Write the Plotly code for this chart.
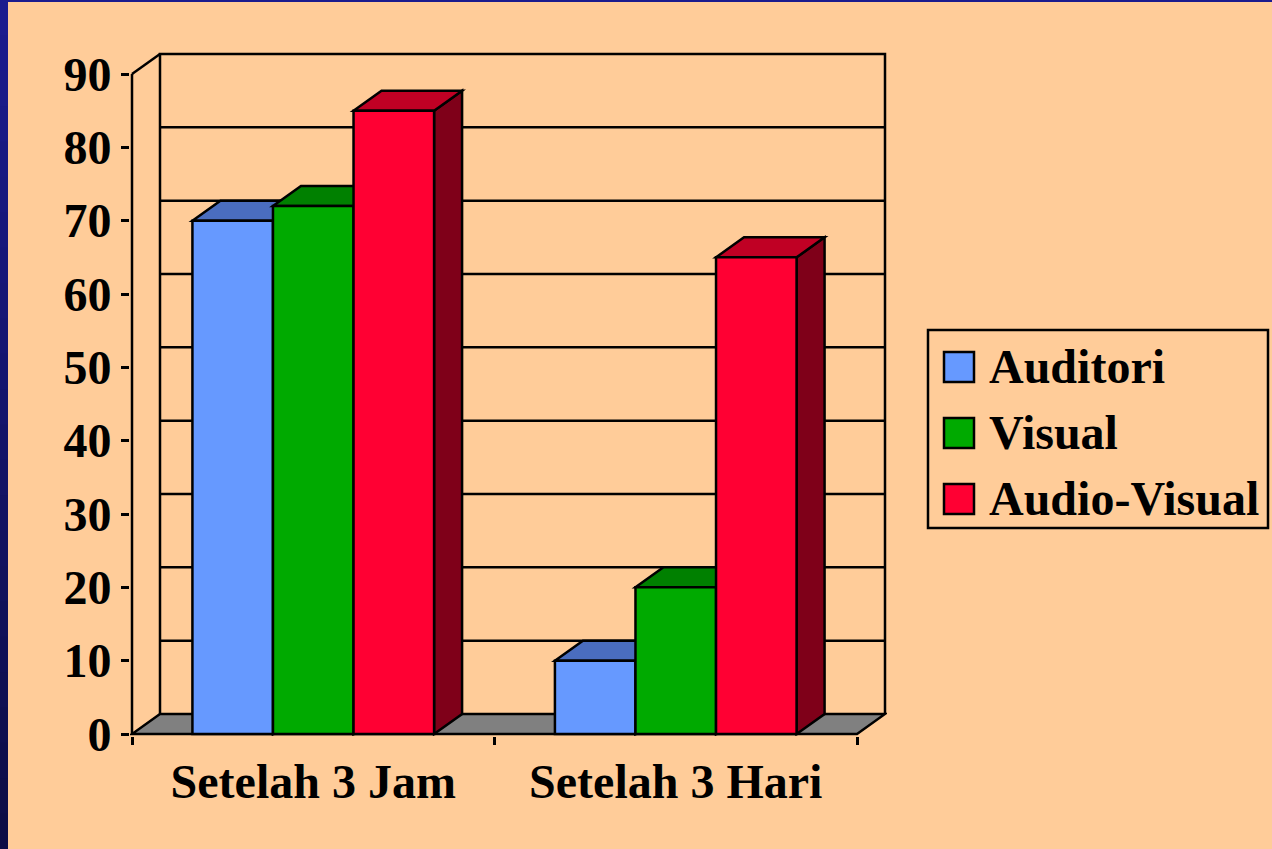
import plotly.graph_objects as go

# ---------------- data ----------------
categories = ["Setelah 3 Jam", "Setelah 3 Hari"]
series_names = ["Auditori", "Visual", "Audio-Visual"]
auditori = [70, 10]
visual = [72, 20]
audio_visual = [85, 65]
y_tick_values = [0, 10, 20, 30, 40, 50, 60, 70, 80, 90]
y_max = 90

series_values = [auditori, visual, audio_visual]
front_colors = ["#6699FF", "#00AA00", "#FF0033"]
top_colors = ["#4A6DBF", "#008000", "#C00024"]
side_colors = ["#334D80", "#005500", "#7F0019"]

# ---------------- geometry (styling) ----------------
W, H = 1272, 849
X_PX = 362.5                 # pixels per category unit
Y_PX = 660 / 90              # pixels per value unit
DX = 28 / X_PX               # 3D depth in x units
DY = 20 / Y_PX               # 3D depth in y units
PAD = 2                      # pixels of padding around the box
LEFT_PX = 132 - PAD
BOTTOM_PX = 734 + PAD
n_cat = len(categories)
x_lo = -0.5
x_hi = n_cat - 0.5
BARGAP = 1 / 3
bar_w = (1 - BARGAP) / len(series_names)

x_range = [x_lo - PAD / X_PX, x_hi + DX + PAD / X_PX]
y_range = [-PAD / Y_PX, y_max + DY + PAD / Y_PX]
plot_w = (x_range[1] - x_range[0]) * X_PX
plot_h = (y_range[1] - y_range[0]) * Y_PX
m_l = LEFT_PX
m_r = W - LEFT_PX - plot_w
m_b = H - BOTTOM_PX
m_t = H - m_b - plot_h


def xp(px):
    return (px - LEFT_PX) / plot_w


def yp(py):
    return (BOTTOM_PX - py) / plot_h


FONT = "Liberation Serif, Times New Roman, serif"
FS = 48
BG = "#FFCC99"
LW = 2.5

fig = go.Figure()

# front faces of the bars
for i, name in enumerate(series_names):
    fig.add_trace(go.Bar(
        x=list(range(n_cat)), y=series_values[i], name=name,
        marker=dict(color=front_colors[i], line=dict(color="black", width=LW)),
        showlegend=False, hoverinfo="name+y",
    ))

shapes = []
LINE = dict(color="black", width=LW)


def path(pts, close=True):
    s = "M " + " L ".join(f"{x},{y}" for x, y in pts)
    return s + (" Z" if close else "")


# back wall gridlines
for v in y_tick_values[1:-1]:
    shapes.append(dict(type="line", xref="x", yref="y", layer="below",
                       x0=x_lo + DX, x1=x_hi + DX, y0=v + DY, y1=v + DY, line=LINE))
# back wall outline
shapes.append(dict(type="path", xref="x", yref="y", layer="below",
                   path=path([(x_lo + DX, DY), (x_lo + DX, y_max + DY),
                              (x_hi + DX, y_max + DY), (x_hi + DX, DY)], close=False),
                   line=LINE))
# left wall top diagonal
shapes.append(dict(type="line", xref="x", yref="y", layer="below",
                   x0=x_lo, y0=y_max, x1=x_lo + DX, y1=y_max + DY, line=LINE))
# floor
shapes.append(dict(type="path", xref="x", yref="y", layer="below",
                   path=path([(x_lo, 0), (x_hi, 0), (x_hi + DX, DY), (x_lo + DX, DY)]),
                   fillcolor="#808080", line=LINE))
# front value axis line
shapes.append(dict(type="line", xref="x", yref="y", layer="below",
                   x0=x_lo, y0=0, x1=x_lo, y1=y_max, line=LINE))

# 3D side and top faces of every bar (left to right)
for j in range(n_cat):
    for i in range(len(series_names)):
        v = series_values[i][j]
        x0 = j - (1 - BARGAP) / 2 + i * bar_w
        x1 = x0 + bar_w
        shapes.append(dict(type="path", xref="x", yref="y", layer="below",
                           path=path([(x1, 0), (x1 + DX, DY), (x1 + DX, v + DY), (x1, v)]),
                           fillcolor=side_colors[i], line=LINE))
        shapes.append(dict(type="path", xref="x", yref="y", layer="below",
                           path=path([(x0, v), (x1, v), (x1 + DX, v + DY), (x0 + DX, v + DY)]),
                           fillcolor=top_colors[i], line=LINE))

# custom legend
shapes.append(dict(type="rect", xref="paper", yref="paper",
                   x0=xp(928), x1=xp(1268), y0=yp(528), y1=yp(330),
                   line=LINE, fillcolor=BG))
annotations = []
legend_rows = [367, 433, 499]
for i, name in enumerate(series_names):
    cy = legend_rows[i]
    shapes.append(dict(type="rect", xref="paper", yref="paper",
                       x0=xp(944), x1=xp(974), y0=yp(cy + 15), y1=yp(cy - 15),
                       fillcolor=front_colors[i], line=LINE))
    annotations.append(dict(xref="paper", yref="paper", x=xp(987), y=yp(cy),
                            xanchor="left", yanchor="middle", showarrow=False,
                            text=name,
                            font=dict(family=FONT, size=FS, color="black", weight="bold")))

# blue slide border (left gradient strip and top strip)
n_band = 24
c_top = (27, 27, 142)
c_bot = (12, 12, 70)
for k in range(n_band):
    t = k / (n_band - 1)
    col = "rgb({},{},{})".format(*[round(a + (b - a) * t) for a, b in zip(c_top, c_bot)])
    shapes.append(dict(type="rect", xref="paper", yref="paper",
                       x0=xp(0), x1=xp(8), y0=yp(H * k / n_band), y1=yp(H * (k + 1) / n_band + 1),
                       fillcolor=col, line=dict(width=0)))
shapes.append(dict(type="rect", xref="paper", yref="paper",
                   x0=xp(0), x1=xp(W), y0=yp(2), y1=yp(0),
                   fillcolor="rgb(27,27,142)", line=dict(width=0)))

fig.update_layout(
    width=W, height=H,
    margin=dict(l=m_l, r=m_r, t=m_t, b=m_b, pad=0),
    paper_bgcolor=BG, plot_bgcolor=BG,
    barmode="group", bargap=BARGAP, bargroupgap=0,
    showlegend=False,
    font=dict(family=FONT, size=FS, color="black", weight="bold"),
    xaxis=dict(
        range=x_range, showgrid=False, zeroline=False, showline=False,
        tickmode="array", tickvals=list(range(n_cat)), ticktext=categories,
        ticks="", ticklabelstandoff=13,
        tickfont=dict(family=FONT, size=FS, color="black", weight="bold"),
        minor=dict(tickmode="array", tickvals=[k - 0.5 for k in range(n_cat + 1)],
                   ticks="outside", ticklen=8, tickwidth=LW, tickcolor="black", showgrid=False),
        fixedrange=True,
    ),
    yaxis=dict(
        range=y_range, showgrid=False, zeroline=False, showline=False,
        tickmode="array", tickvals=y_tick_values,
        ticks="outside", ticklen=8, tickwidth=LW, tickcolor="black",
        tickfont=dict(family=FONT, size=FS, color="black", weight="bold"),
        fixedrange=True,
    ),
    shapes=shapes,
    annotations=annotations,
)

fig.write_html(
    "out.html",
    config={"displayModeBar": False},
    post_script="document.body.style.margin='0';document.body.style.overflow='hidden';",
)
